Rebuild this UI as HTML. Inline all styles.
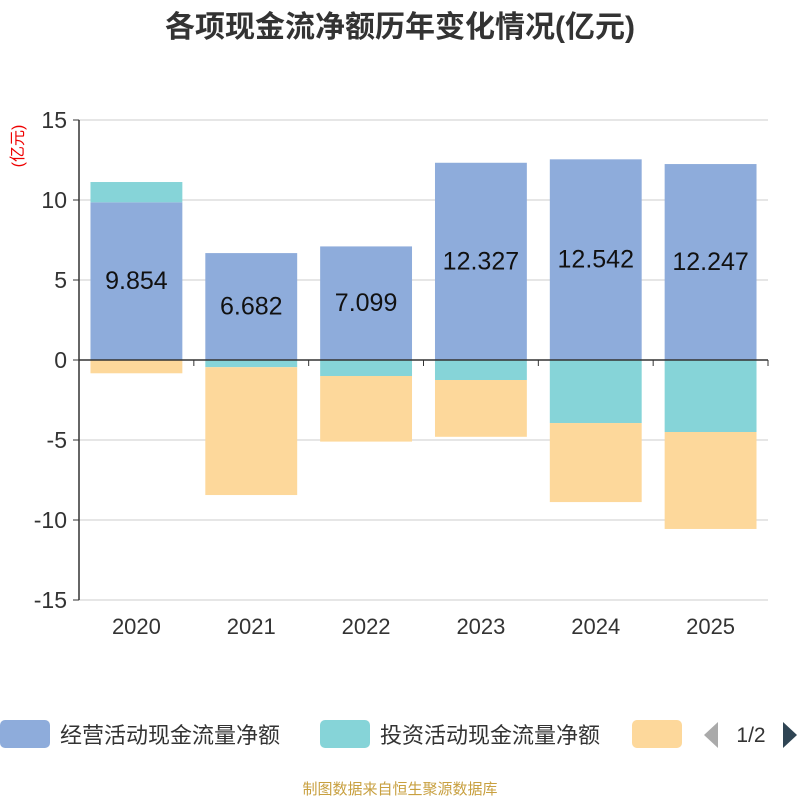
<!DOCTYPE html>
<html><head><meta charset="utf-8">
<style>
body{margin:0;background:#fff;font-family:"Liberation Sans","Noto Sans CJK SC",sans-serif;}
#wrap{position:relative;width:800px;height:800px;overflow:hidden;}
</style></head>
<body>
<div id="wrap">
<svg id="chart" width="800" height="800" xmlns="http://www.w3.org/2000/svg">
<text x="400" y="37" text-anchor="middle" font-size="30" font-weight="bold" fill="#333" font-family="Liberation Sans,Noto Sans CJK SC,sans-serif">各项现金流净额历年变化情况(亿元)</text>
<text transform="translate(23,146) rotate(-90)" text-anchor="middle" font-size="16" fill="#e00" font-family="Liberation Sans,Noto Sans CJK SC,sans-serif">(亿元)</text>
<g id="grid"></g>
<g id="bars"></g>
<g id="axes"></g>
<g id="legend">
<rect x="0" y="720" width="50" height="28" rx="5" fill="#8eacdb"/>
<text x="60" y="743" font-size="22" fill="#333" font-family="Liberation Sans,Noto Sans CJK SC,sans-serif">经营活动现金流量净额</text>
<rect x="320" y="720" width="50" height="28" rx="5" fill="#86d4d8"/>
<text x="380" y="743" font-size="22" fill="#333" font-family="Liberation Sans,Noto Sans CJK SC,sans-serif">投资活动现金流量净额</text>
<rect x="632" y="720" width="50" height="28" rx="5" fill="#fdd89b"/>
<polygon points="718,722 718,748 704,735" fill="#aaa"/>
<text x="751" y="742" text-anchor="middle" font-size="21" fill="#333">1/2</text>
<polygon points="783,722 783,748 797,735" fill="#2f4554"/>
</g>
<text x="400" y="794" text-anchor="middle" font-size="15" fill="#c8a040" font-family="Liberation Sans,Noto Sans CJK SC,sans-serif">制图数据来自恒生聚源数据库</text>
</svg>
</div>
<script>
const years = ["2020","2021","2022","2023","2024","2025"];
const operating = [9.854, 6.682, 7.099, 12.327, 12.542, 12.247];
const investing = [1.27, -0.45, -1.0, -1.25, -3.94, -4.5];
const financing = [-0.83, -7.99, -4.1, -3.55, -4.94, -6.06];
const yTicks = [15, 10, 5, 0, -5, -10, -15];

const NS = "http://www.w3.org/2000/svg";
const x0 = 79, x1 = 768, yTop = 120, yBot = 600;
function yScale(v){ return yTop + (15 - v) / 30 * (yBot - yTop); }
const band = (x1 - x0) / years.length;
function xCenter(i){ return x0 + band * (i + 0.5); }
const barW = band * 0.8;
function mk(tag, attrs, parent){ const e = document.createElementNS(NS, tag); for (const k in attrs) e.setAttribute(k, attrs[k]); parent.appendChild(e); return e; }
const grid = document.getElementById('grid'), bars = document.getElementById('bars'), axes = document.getElementById('axes');

yTicks.forEach(t => {
  const y = yScale(t);
  const l = mk('line', {x1: x0, x2: x1, y1: y, y2: y, stroke: '#ccc', 'stroke-width': 1}, grid);
  
  
  const tk = mk('line', {x1: x0 - 6, x2: x0, y1: y, y2: y, stroke: '#333', 'stroke-width': 1}, axes);
  
  
  const tx = mk('text', {x: x0 - 12, y: y + 8, 'text-anchor': 'end', 'font-size': 23, fill: '#333'}, axes);
  tx.textContent = t;
  
  
});

years.forEach((yr, i) => {
  const cx = xCenter(i), bx = cx - barW / 2;
  let pos = 0, neg = 0;
  const segs = [[operating[i], '#8eacdb', 'bar-operating'], [investing[i], '#86d4d8', 'bar-investing'], [financing[i], '#fdd89b', 'bar-financing']];
  segs.forEach(s => {
    const v = s[0];
    let a, b;
    if (v >= 0) { a = pos; b = pos + v; pos = b; } else { a = neg; b = neg + v; neg = b; }
    const yA = yScale(Math.max(a, b)), yB = yScale(Math.min(a, b));
    const r = mk('rect', {x: bx, y: yA, width: barW, height: yB - yA, fill: s[1]}, bars);
    
    
  });
  const lbl = mk('text', {x: cx, y: yScale(operating[i] / 2) + 8, 'text-anchor': 'middle', 'font-size': 25, fill: '#111'}, bars);
  lbl.textContent = operating[i].toFixed(3);
  
  
  const xl = mk('text', {x: cx, y: 634, 'text-anchor': 'middle', 'font-size': 22, fill: '#333'}, axes);
  xl.textContent = yr;
  
  
});
for (let i = 0; i <= years.length; i++) {
  const x = x0 + band * i;
  const t = mk('line', {x1: x, x2: x, y1: yScale(0), y2: yScale(0) + 6, stroke: '#333'}, axes);
  
  
}
const xa = mk('line', {x1: x0, x2: x1, y1: yScale(0), y2: yScale(0), stroke: '#333', 'stroke-width': 1.5}, axes);


const ya = mk('line', {x1: x0, x2: x0, y1: yTop, y2: yBot, stroke: '#333', 'stroke-width': 1.5}, axes);


</script>
</body></html>
